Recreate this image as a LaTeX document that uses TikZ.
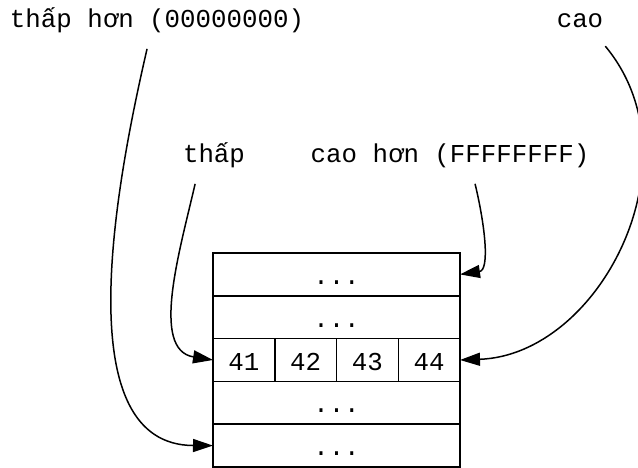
\documentclass[tikz,border=0pt]{standalone}
\usepackage{fontspec}
\newfontfamily\memfont{Liberation Mono}
\usetikzlibrary{arrows.meta,positioning}

\begin{document}
\begin{tikzpicture}[
    x=1pt, y=1pt,
    >={Triangle[length=20pt,width=13pt]},
    lbl/.style={font=\memfont\fontsize{25.8}{30}\selectfont, inner sep=0pt, text depth=8pt, anchor=base},
    slot/.style={rectangle, draw, line width=1.5pt, outer sep=0pt, inner sep=0pt, minimum width=247pt, minimum height=42.8pt, text height=20pt, text depth=0pt, font=\memfont\fontsize{25.8}{30}\selectfont},
    cell/.style={slot, minimum width=61.75pt},
    link/.style={->, line width=1.5pt, shorten <=13pt}
  ]
    \useasboundingbox (0,0) rectangle (638,-468);
    % labels
    \node[lbl] (lower) at (157,-28) {thấp hơn (00000000)};
    \node[lbl] (high) at (580,-28) {cao};
    \node[lbl] (low) at (214,-163) {thấp};
    \node[lbl] (higher) at (450,-163) {cao hơn (FFFFFFFF)};
    % memory
    \node[slot] (r1) at (336.5,-274.4) {...};
    \node[slot, below=0pt of r1] (r2) {...};
    \node[cell, anchor=north west] (c41) at (r2.south west) {41};
    \node[cell, right=0pt of c41] (c42) {42};
    \node[cell, right=0pt of c42] (c43) {43};
    \node[cell, right=0pt of c43] (c44) {44};
    \node[slot, anchor=north west] (r4) at (c41.south west) {...};
    \node[slot, below=0pt of r4] (r5) {...};
    % pointers
    \draw[link] ([xshift=-7pt]lower.south) .. controls (112,-200) and (70,-445) .. (r5.west);
    \draw[link] ([xshift=17pt]high.south) .. controls (700,-160) and (600,-355) .. (c44.east);
    \draw[link] ([xshift=-16pt]low.south) .. controls (180,-250) and (150,-350) .. (c41.west);
    \draw[link] ([xshift=22pt]higher.south) .. controls (485,-225) and (490,-270) .. (r1.east);
\end{tikzpicture}
\end{document}
